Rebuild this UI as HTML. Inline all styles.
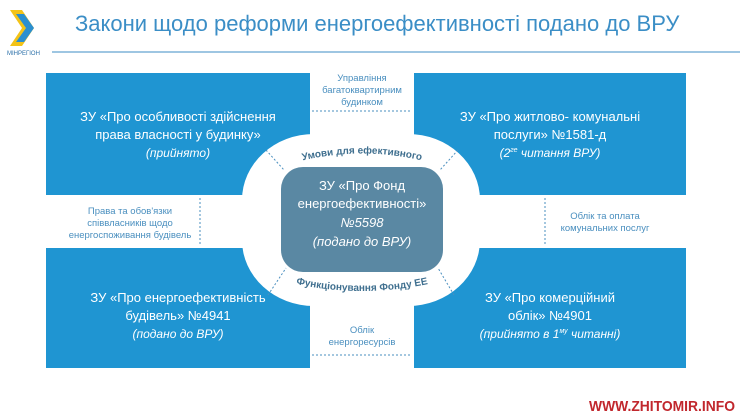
<!DOCTYPE html>
<html><head><meta charset="utf-8"><style>
body{margin:0;background:#fff;}
svg{display:block;font-family:"Liberation Sans","DejaVu Sans",sans-serif;}
</style></head><body>
<svg width="745" height="419" viewBox="0 0 745 419">
<!-- logo -->
<polygon points="10,10 22,10 34,28 22,46 10,46 22,28" fill="#f3c318"/>
<polygon points="16,14 24,14 34,28 24,42 16,42 26,28" fill="#2a8fd0"/>
<text x="7" y="55" font-size="6" fill="#2a6fa8">МІНРЕГІОН</text>
<text x="75" y="31" font-size="22" fill="#3b8ec6">Закони щодо реформи енергоефективності подано до ВРУ</text>
<line x1="52" y1="52" x2="740" y2="52" stroke="#7fb3d8" stroke-width="1.5"/>
<!-- boxes -->
<rect x="46" y="73" width="264" height="122" fill="#1f95d2"/>
<rect x="414" y="73" width="272" height="122" fill="#1f95d2"/>
<rect x="46" y="248" width="264" height="120" fill="#1f95d2"/>
<rect x="414" y="248" width="272" height="120" fill="#1f95d2"/>
<!-- white center shape -->
<rect x="242" y="134" width="238" height="172" rx="72" ry="66" fill="#fff"/>
<rect x="281" y="167" width="162" height="105" rx="22" fill="#5a88a3"/>
<g fill="#fff" text-anchor="middle" font-size="13">
<text x="362" y="190">ЗУ «Про Фонд</text>
<text x="362" y="208">енергоефективності»</text>
<text x="362" y="227" font-style="italic">№5598</text>
<text x="362" y="246" font-style="italic">(подано до ВРУ)</text>
<text x="178" y="121">ЗУ «Про особливості здійснення</text>
<text x="178" y="139">права власності у будинку»</text>
<text x="178" y="157" font-style="italic" font-size="12">(прийнято)</text>
<text x="550" y="121">ЗУ «Про житлово- комунальні</text>
<text x="550" y="139">послуги» №1581-д</text>
<text x="550" y="157" font-style="italic" font-size="12">(2<tspan font-size="7" dy="-5">ге</tspan><tspan dy="5"> читання ВРУ)</tspan></text>
<text x="178" y="302">ЗУ «Про енергоефективність</text>
<text x="178" y="320">будівель» №4941</text>
<text x="178" y="338" font-style="italic" font-size="12">(подано до ВРУ)</text>
<text x="550" y="302">ЗУ «Про комерційний</text>
<text x="550" y="320">облік» №4901</text>
<text x="550" y="338" font-style="italic" font-size="12">(прийнято в 1<tspan font-size="7" dy="-5">му</tspan><tspan dy="5"> читанні)</tspan></text>
</g>
<g fill="#4a8fbf" text-anchor="middle" font-size="9.5">
<text x="362" y="81">Управління</text>
<text x="362" y="93">багатоквартирним</text>
<text x="362" y="105">будинком</text>
<text x="130" y="214">Права та обов'язки</text>
<text x="130" y="226">співвласників щодо</text>
<text x="130" y="238">енергоспоживання будівель</text>
<text x="605" y="219">Облік та оплата</text>
<text x="605" y="231">комунальних послуг</text>
<text x="362" y="333">Облік</text>
<text x="362" y="345">енергоресурсів</text>
</g>
<path id="arcTop" d="M300,161 Q362,146 424,161" fill="none"/>
<path id="arcBot" d="M296,284 Q362,298 428,284" fill="none"/>
<g fill="#3f6f8f" font-weight="bold" font-size="10" text-anchor="middle">
<text><textPath href="#arcTop" startOffset="50%">Умови для ефективного</textPath></text>
<text><textPath href="#arcBot" startOffset="50%">Функціонування  Фонду ЕЕ</textPath></text>
</g>
<g stroke="#4a8fbf" stroke-width="1" stroke-dasharray="2,2" fill="none">
<line x1="312" y1="111" x2="412" y2="111"/>
<line x1="312" y1="355" x2="412" y2="355"/>
<line x1="200" y1="198" x2="200" y2="245"/>
<line x1="545" y1="198" x2="545" y2="245"/>
<line x1="266" y1="150" x2="284" y2="170"/>
<line x1="458" y1="150" x2="440" y2="170"/>
<line x1="268" y1="295" x2="286" y2="268"/>
<line x1="454" y1="295" x2="438" y2="268"/>
</g>
<text x="735" y="411" text-anchor="end" font-size="15" font-weight="bold" fill="#c1272d" textLength="146" lengthAdjust="spacingAndGlyphs">WWW.ZHITOMIR.INFO</text>
</svg>
</body></html>
